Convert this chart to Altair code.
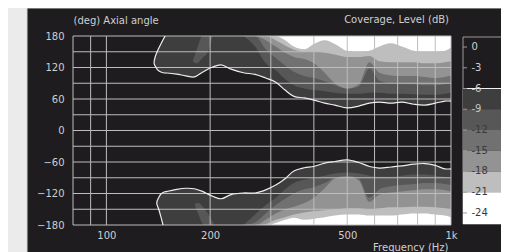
import altair as alt
import pandas as pd

FONT = "DejaVu Sans"
TEXT_COLOR = "#cfcfcf"
PAGE_BG = "#ebebeb"
PANEL_BG = "#1e1c1f"
GRID_COLOR = "#bdbdbd"
CONTOUR_COLOR = "#eeeeee"

# ---------------- data ----------------
# level bands (area below each threshold in dB) and their grey tones
BAND_LEVELS = [-6, -9, -12, -15, -18, -21]
BAND_COLORS = ["#3e3e3e", "#575757", "#717171", "#939393", "#bebebe", "#ffffff"]

# -6 dB contour, upper lobe (positive angles)
UP6_FREQ = [137.5, 138.5, 141, 144.5, 148, 150, 160, 170, 180, 190, 200, 215, 230, 250, 270,
            290, 310, 330, 350, 375, 400, 430, 460, 500, 540, 580, 620, 670, 720, 780, 840,
            900, 960, 1000]
UP6_EDGE = [128, 123, 115, 111, 109.5, 109.5, 107.5, 104, 102, 111, 119, 125, 117, 110, 107,
            100, 92, 77, 65, 62, 58, 52, 48.5, 43, 46.5, 52, 54, 52, 54, 50, 48.5,
            52, 56, 56]
UP6_LOBE_TOP = [128, 140, 153, 167]

# -6 dB contour, lower lobe (negative angles)
LO6_FREQ = [140, 142, 144, 146, 150, 160, 170, 180, 190, 200, 215, 230, 250, 270, 290, 310,
            330, 350, 375, 400, 430, 460, 500, 540, 580, 620, 670, 720, 780, 840, 900, 960, 1000]
LO6_EDGE = [-138, -127, -121, -118, -116, -112, -110, -111, -116, -123, -130, -122, -119, -119,
            -113, -104, -92, -77, -71, -68.5, -62, -59, -56, -61, -68.5, -71.5, -69.5, -67.5,
            -64, -63, -66.5, -73, -73]
LO6_LOBE_BOTTOM = [-138, -151, -165]

# deeper level boundaries (angle where each band starts, towards +/-180)
BAND_FREQ = [250, 270, 290, 310, 330, 350, 375, 400, 430, 460, 500, 540, 580, 620, 670, 720,
             780, 840, 900, 960, 1000]
UP9 = [180, 160, 128, 115, 98, 86, 80, 77, 75, 72, 70, 70, 72, 72, 70, 70, 69, 68, 68, 70, 72]
UP12 = [180, 180, 155, 138, 124, 112, 104, 100, 94, 86, 80, 84, 118, 95, 90, 88, 88, 86, 86, 88, 90]
UP15 = [180, 180, 172, 160, 148, 140, 136, 128, 110, 90, 80, 88, 130, 110, 105, 104, 104, 102, 100, 102, 105]
UP18 = [180, 180, 180, 172, 162, 154, 150, 150, 148, 145, 140, 140, 142, 132, 130, 130, 130, 128, 128, 130, 132]
UP21 = [180, 180, 180, 180, 172, 160, 155, 165, 172, 165, 152, 150, 152, 160, 166, 160, 152, 150, 150, 152, 158]

LO9 = [-180, -160, -142, -128, -112, -100, -94, -90, -86, -82, -80, -82, -86, -88, -88, -86, -84, -84, -86, -88, -90]
LO12 = [-180, -175, -158, -142, -130, -120, -112, -108, -100, -90, -86, -92, -128, -112, -106, -104, -102, -100, -100, -102, -104]
LO15 = [-180, -180, -170, -158, -150, -145, -138, -128, -110, -92, -88, -95, -136, -122, -118, -116, -114, -112, -112, -114, -116]
LO18 = [-180, -180, -178, -170, -165, -160, -156, -154, -152, -150, -148, -148, -150, -148, -146, -146, -145, -145, -146, -148, -150]
LO21 = [-180, -180, -180, -176, -170, -166, -170, -168, -165, -162, -160, -160, -162, -162, -162, -160, -158, -158, -160, -162, -165]

# small -9 dB streaks inside the -6 lobes
UPS_FREQ = [178, 183, 190, 197, 203]
UPS_LO = [132, 128, 138, 150, 178]
UPS_HI = [132, 155, 180, 180, 180]
LOS_FREQ = [180, 185, 192, 198, 205]
LOS_LO = [-140, -160, -180, -180, -180]
LOS_HI = [-140, -138, -148, -160, -178]

GRID_FREQ = [80, 90, 100, 200, 300, 400, 500, 600, 700, 800, 900, 1000]
GRID_ANGLE = [-180, -150, -120, -90, -60, -30, 0, 30, 60, 90, 120, 150, 180]
X_LABELS = [100, 200, 500, 1000]
Y_LABELS = [-180, -120, -60, 0, 60, 120, 180]

LEGEND_TICKS = [0, -3, -6, -9, -12, -15, -18, -21, -24]
LEGEND_LABEL_COLORS = ["#cfcfcf", "#cfcfcf", "#cfcfcf", "#c4c4c4", "#3a3a3a",
                       "#3a3a3a", "#3a3a3a", "#3a3a3a", "#3a3a3a"]
LEGEND_TOP = 1.45
LEGEND_BOTTOM = -25.6

# ---------------- scales & axes ----------------
xscale = alt.Scale(type="log", domain=[80, 1000], nice=False)
yscale = alt.Scale(domain=[-180, 180], nice=False, zero=False)

common_axis = dict(grid=False, domain=False, ticks=False, tickSize=0, labelFont=FONT,
                   labelFontSize=10, labelColor=TEXT_COLOR, titleFont=FONT, titleFontSize=10,
                   titleFontWeight="normal", titleColor=TEXT_COLOR, zindex=1,
                   labelFlush=False, labelOverlap=False, titleAngle=0, titleBaseline="middle")
xaxis = alt.Axis(values=X_LABELS,
                 labelExpr="datum.value >= 1000 ? '1k' : format(datum.value, 'd')",
                 labelPadding=5, title="Frequency  (Hz)", titleX=375, titleY=22,
                 titleAlign="right", **common_axis)
yaxis = alt.Axis(values=Y_LABELS, labelPadding=9, title="(deg)  Axial angle",
                 titleX=0, titleY=-16, titleAlign="left", **common_axis)

X = alt.X("freq:Q", scale=xscale, axis=xaxis)


def area(df, color, interp="monotone"):
    return alt.Chart(df).mark_area(color=color, interpolate=interp, clip=True).encode(
        x=X,
        y=alt.Y("lo:Q", scale=yscale, axis=yaxis),
        y2="hi:Q",
    )


layers = []

# dark panel behind the plot
layers.append(
    alt.Chart(pd.DataFrame({"p": [0]})).mark_rect(color=PANEL_BG, stroke="#d6d6d6", strokeWidth=1).encode(
        x=alt.value(-46), x2=alt.value(470), y=alt.value(-28), y2=alt.value(240)
    )
)

# -6 dB regions
up_top = UP6_LOBE_TOP + [180] * (len(UP6_FREQ) - len(UP6_LOBE_TOP))
lo_bot = LO6_LOBE_BOTTOM + [-180] * (len(LO6_FREQ) - len(LO6_LOBE_BOTTOM))
up6 = pd.DataFrame({"freq": UP6_FREQ, "lo": UP6_EDGE, "hi": up_top})
lo6 = pd.DataFrame({"freq": LO6_FREQ, "lo": lo_bot, "hi": LO6_EDGE})
layers.append(area(up6, BAND_COLORS[0], "catmull-rom"))
layers.append(area(lo6, BAND_COLORS[0], "catmull-rom"))

# streaks
layers.append(area(pd.DataFrame({"freq": UPS_FREQ, "lo": UPS_LO, "hi": UPS_HI}), BAND_COLORS[1]))
layers.append(area(pd.DataFrame({"freq": LOS_FREQ, "lo": LOS_LO, "hi": LOS_HI}), BAND_COLORS[1]))

# deeper bands
up_bands = [UP9, UP12, UP15, UP18, UP21]
lo_bands = [LO9, LO12, LO15, LO18, LO21]
for i in range(5):
    n = len(BAND_FREQ)
    layers.append(area(pd.DataFrame({"freq": BAND_FREQ, "lo": up_bands[i], "hi": [180] * n}),
                       BAND_COLORS[i + 1]))
    layers.append(area(pd.DataFrame({"freq": BAND_FREQ, "lo": [-180] * n, "hi": lo_bands[i]}),
                       BAND_COLORS[i + 1]))

# grid lines above the map
layers.append(
    alt.Chart(pd.DataFrame({"freq": GRID_FREQ})).mark_rule(color=GRID_COLOR, strokeWidth=1).encode(x=X)
)
layers.append(
    alt.Chart(pd.DataFrame({"angle": GRID_ANGLE})).mark_rule(color=GRID_COLOR, strokeWidth=1).encode(
        y=alt.Y("angle:Q", scale=yscale, axis=yaxis)
    )
)

# -6 dB contour lines
k = len(UP6_LOBE_TOP)
up_path = [(UP6_FREQ[i], up_top[i]) for i in range(k, -1, -1)] + \
          [(UP6_FREQ[i], UP6_EDGE[i]) for i in range(1, len(UP6_FREQ))]
k = len(LO6_LOBE_BOTTOM)
lo_path = [(LO6_FREQ[i], lo_bot[i]) for i in range(k, -1, -1)] + \
          [(LO6_FREQ[i], LO6_EDGE[i]) for i in range(1, len(LO6_FREQ))]
for path in (up_path, lo_path):
    dfp = pd.DataFrame({"freq": [p[0] for p in path], "angle": [p[1] for p in path],
                        "i": list(range(len(path)))})
    layers.append(
        alt.Chart(dfp).mark_line(color=CONTOUR_COLOR, strokeWidth=1.2, interpolate="catmull-rom",
                                 clip=True).encode(
            x=X, y=alt.Y("angle:Q", scale=yscale, axis=yaxis), order="i:Q"
        )
    )

# header text
layers.append(
    alt.Chart(pd.DataFrame({"t": ["Coverage, Level  (dB)"]})).mark_text(
        align="right", baseline="middle", font=FONT, fontSize=10, color=TEXT_COLOR
    ).encode(x=alt.value(376), y=alt.value(-16), text="t:N")
)

main = alt.layer(*layers)

# ---------------- legend ----------------
lx = alt.Scale(domain=[0, 1], range=[390, 440])
ly = alt.Scale(domain=[LEGEND_BOTTOM, LEGEND_TOP], range=[188, 1], nice=False, zero=False)

box = alt.Chart(pd.DataFrame({"x0": [0], "x1": [1], "lo": [LEGEND_BOTTOM], "hi": [LEGEND_TOP]})).mark_rect(
    fill=PANEL_BG, stroke="#9a9a9a", strokeWidth=1
).encode(x=alt.X("x0:Q", scale=lx, axis=None), x2="x1:Q",
         y=alt.Y("lo:Q", scale=ly, axis=None), y2="hi:Q")

band_df = pd.DataFrame({
    "x0": [0] * len(BAND_LEVELS), "x1": [1] * len(BAND_LEVELS),
    "hi": BAND_LEVELS, "lo": BAND_LEVELS[1:] + [LEGEND_BOTTOM], "c": BAND_COLORS,
})
bands = alt.Chart(band_df).mark_rect().encode(
    x=alt.X("x0:Q", scale=lx, axis=None), x2="x1:Q",
    y=alt.Y("lo:Q", scale=ly, axis=None), y2="hi:Q",
    color=alt.Color("c:N", scale=None),
)
edge6 = alt.Chart(pd.DataFrame({"x0": [0], "x1": [1], "v": [BAND_LEVELS[0]]})).mark_rule(
    color="#f2f2f2", strokeWidth=1.2
).encode(x=alt.X("x0:Q", scale=lx, axis=None), x2="x1:Q", y=alt.Y("v:Q", scale=ly, axis=None))

tick_df = pd.DataFrame({"x0": [0] * len(LEGEND_TICKS), "x1": [0.08] * len(LEGEND_TICKS),
                        "v": LEGEND_TICKS, "xl": [0.17] * len(LEGEND_TICKS),
                        "label": [str(v) for v in LEGEND_TICKS], "c": LEGEND_LABEL_COLORS})
ticks = alt.Chart(tick_df).mark_rule(color="#9a9a9a").encode(
    x=alt.X("x0:Q", scale=lx, axis=None), x2="x1:Q", y=alt.Y("v:Q", scale=ly, axis=None)
)
labels = alt.Chart(tick_df).mark_text(align="left", baseline="middle", font=FONT, fontSize=10).encode(
    x=alt.X("xl:Q", scale=lx, axis=None), y=alt.Y("v:Q", scale=ly, axis=None), text="label:N",
    color=alt.Color("c:N", scale=None),
)

legend = alt.layer(box, bands, edge6, ticks, labels)

chart = alt.layer(main, legend).resolve_scale(x="independent", y="independent").properties(
    width=378, height=189,
    padding={"left": 65, "top": 28, "right": 50, "bottom": 27},
    autosize=alt.AutoSizeParams(type="none"),
    background=PAGE_BG,
).configure_view(strokeWidth=0)

chart.save("out.html", embed_options={"renderer": "svg", "actions": False})
